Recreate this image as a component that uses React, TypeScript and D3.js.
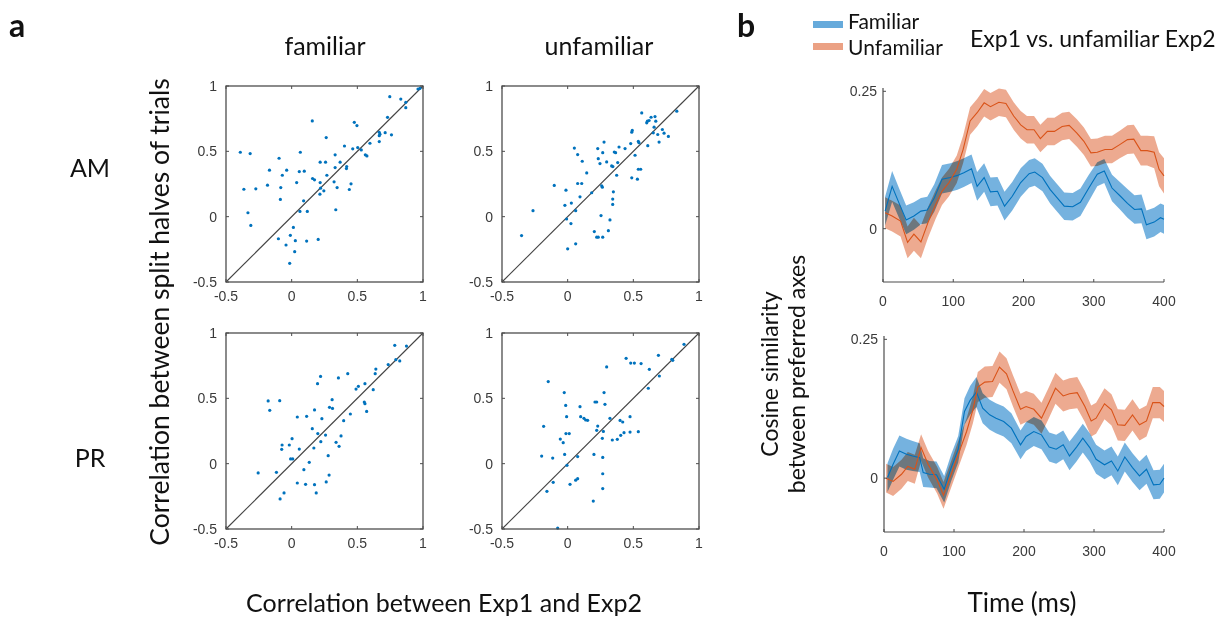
import React from "react";
import * as d3 from "d3";

// ---------- panel a: per-neuron correlations (x = Exp1 vs Exp2, y = split halves) ----------
const AM_FAMILIAR: [number, number][] = [
  [0.962, 0.977], [0.977, 0.982], [0.747, 0.918], [0.831, 0.9], [0.869, 0.875], [0.869, 0.834],
  [0.73, 0.76], [0.157, 0.733], [0.477, 0.722], [0.497, 0.697], [0.263, 0.605], [0.667, 0.646],
  [0.672, 0.631], [0.667, 0.62], [0.712, 0.643], [0.76, 0.626], [0.667, 0.575], [0.596, 0.562],
  [0.402, 0.541], [0.465, 0.519], [0.503, 0.529], [0.53, 0.511], [-0.391, 0.493], [-0.316, 0.483],
  [0.066, 0.493], [0.331, 0.473], [0.561, 0.473], [0.573, 0.465], [-0.096, 0.447], [0.217, 0.417],
  [0.258, 0.417], [0.369, 0.417], [0.331, 0.376], [0.419, 0.384], [0.417, 0.368], [-0.169, 0.356],
  [-0.038, 0.356], [0.058, 0.345], [0.096, 0.348], [-0.071, 0.317], [0.268, 0.317], [0.159, 0.292],
  [0.174, 0.282], [0.038, 0.261], [0.217, 0.261], [0.323, 0.267], [0.452, 0.251], [-0.184, 0.241],
  [-0.364, 0.21], [-0.273, 0.213], [-0.083, 0.223], [0.22, 0.218], [0.346, 0.223], [0.439, 0.208],
  [0.245, 0.198], [0.215, 0.172], [-0.086, 0.132], [0.091, 0.121], [-0.333, 0.03], [0.063, 0.04],
  [0.119, 0.04], [0.336, 0.053], [-0.311, -0.067], [0.013, -0.082], [-0.101, -0.169], [-0.01, -0.143],
  [0.028, -0.184], [0.114, -0.187], [0.202, -0.174], [-0.043, -0.217], [0.023, -0.268], [-0.015, -0.357],
];

const AM_UNFAMILIAR: [number, number][] = [
  [-0.351, -0.145], [-0.264, 0.046], [-0.102, 0.239], [-0.013, 0.203], [-0.021, 0.087], [-0.008, -0.018],
  [0.028, 0.104], [0.025, -0.053], [0, -0.246], [0.051, 0.525], [0.076, 0.475], [0.111, 0.424],
  [0.145, 0.335], [0.076, 0.254], [0.107, 0.254], [0.094, 0.152], [0.061, 0.046], [0.061, -0.208],
  [0.183, 0.183], [0.229, 0.521], [0.233, 0.444], [0.246, 0.406], [0.259, 0.236], [0.264, 0.226],
  [0.277, 0.571], [0.267, 0.49], [0.297, 0.419], [0.203, -0.114], [0.221, -0.157], [0.233, -0.157],
  [0.267, -0.157], [0.254, 0.008], [0.31, -0.107], [0.322, -0.025], [0.335, 0.388], [0.344, 0.383],
  [0.348, 0.19], [0.343, 0.135], [0.343, 0.094], [0.355, 0.495], [0.365, 0.49], [0.373, 0.317],
  [0.391, 0.533], [0.381, 0.414], [0.437, 0.521], [0.48, 0.559], [0.488, 0.647], [0.492, 0.66],
  [0.488, 0.297], [0.513, 0.47], [0.531, 0.287], [0.538, 0.576], [0.543, 0.566], [0.564, 0.794],
  [0.607, 0.731], [0.62, 0.736], [0.602, 0.718], [0.635, 0.761], [0.665, 0.766], [0.671, 0.731],
  [0.658, 0.685], [0.652, 0.642], [0.686, 0.629], [0.721, 0.667], [0.734, 0.639], [0.767, 0.614],
  [0.696, 0.571], [0.831, 0.807], [0.61, 0.543], [0.538, 0.363], [0.556, 0.363],
];

const PR_FAMILIAR: [number, number][] = [
  [0.785, 0.906], [0.874, 0.9], [0.793, 0.796], [0.823, 0.786], [0.735, 0.758], [0.641, 0.724],
  [0.636, 0.689], [0.22, 0.668], [0.427, 0.689], [0.356, 0.656], [0.197, 0.612], [0.508, 0.592],
  [0.49, 0.571], [0.558, 0.612], [0.621, 0.566], [-0.179, 0.48], [-0.091, 0.482], [0.308, 0.49],
  [0.553, 0.472], [0.558, 0.459], [-0.167, 0.408], [0.288, 0.431], [0.311, 0.423], [0.174, 0.411],
  [0.571, 0.4], [0.447, 0.38], [0.043, 0.357], [0.114, 0.362], [0.23, 0.344], [0.396, 0.329],
  [0.157, 0.268], [0.199, 0.23], [0.258, 0.219], [0.003, 0.191], [0.376, 0.212], [0.222, 0.168],
  [0.338, 0.163], [-0.073, 0.143], [-0.018, 0.143], [0.361, 0.133], [-0.076, 0.11], [0.058, 0.112],
  [0.169, 0.12], [0.278, 0.061], [-0.008, 0.036], [0.008, 0.036], [0.134, 0.01], [-0.255, -0.071],
  [-0.116, -0.066], [0.093, -0.046], [0.285, -0.087], [0.043, -0.148], [0.106, -0.158], [0.174, -0.161],
  [0.263, -0.14], [-0.058, -0.224], [0.187, -0.224], [-0.088, -0.27],
];

const PR_UNFAMILIAR: [number, number][] = [
  [-0.148, 0.628], [-0.183, 0.286], [-0.198, 0.058], [-0.114, 0.043], [-0.158, -0.212], [-0.11, -0.143],
  [-0.076, -0.493], [-0.056, 0.188], [-0.034, 0.161], [-0.026, 0.544], [-0.015, 0.446], [-0.008, 0.36],
  [-0.013, 0.23], [0.012, 0.23], [-0.023, 0.071], [-0.005, -0.013], [0.018, -0.158], [0.061, -0.126],
  [0.076, -0.115], [0.076, 0.054], [0.094, 0.436], [0.099, 0.36], [0.124, 0.347], [0.137, 0.334],
  [0.152, 0.332], [0.2, 0.071], [0.195, -0.286], [0.208, 0.472], [0.221, 0.472], [0.221, 0.255],
  [0.229, 0.288], [0.264, 0.194], [0.272, 0.247], [0.277, 0.544], [0.284, 0.454], [0.267, 0.048],
  [0.267, -0.077], [0.267, -0.191], [0.297, 0.74], [0.322, 0.347], [0.34, 0.181], [0.378, 0.186],
  [0.399, 0.331], [0.419, 0.319], [0.404, 0.217], [0.429, 0.237], [0.445, 0.806], [0.475, 0.36],
  [0.475, 0.242], [0.48, 0.77], [0.508, 0.77], [0.538, 0.245], [0.886, 0.913], [0.793, 0.799],
  [0.8, 0.791], [0.691, 0.829], [0.622, 0.722], [0.698, 0.671], [0.614, 0.577], [0.559, 0.766],
];

const SCATTER_TICKS = [-0.5, 0, 0.5, 1];
const SCATTER_TICK_LABELS = ["-0.5", "0", "0.5", "1"];

// ---------- panel b: cosine similarity time courses (time ms, mean, s.e.m.) ----------
const AM_FAM_T = [3, 13, 23, 33, 44, 54, 63, 73, 84, 96, 106, 115, 126, 134, 144, 153, 163, 173, 184, 196,
  208, 216, 227, 238, 248, 258, 270, 281, 293, 305, 315, 326, 338, 348, 358, 368, 375, 386, 395, 400];
const AM_FAM_MEAN = [0.032, 0.077, 0.046, 0.016, 0.023, 0.032, 0.034, 0.056, 0.09, 0.093, 0.097, 0.102, 0.109, 0.077, 0.093, 0.067, 0.068, 0.041, 0.059, 0.084,
  0.1, 0.103, 0.093, 0.071, 0.056, 0.041, 0.04, 0.048, 0.074, 0.099, 0.105, 0.074, 0.059, 0.046, 0.035, 0.036, 0.007, 0.012, 0.02, 0.017];
const AM_FAM_SEM = [0.026, 0.028, 0.027, 0.026, 0.025, 0.024, 0.024, 0.025, 0.026, 0.026, 0.026, 0.026, 0.026, 0.026, 0.026, 0.026, 0.026, 0.026, 0.026, 0.026,
  0.025, 0.025, 0.025, 0.025, 0.025, 0.025, 0.025, 0.025, 0.024, 0.022, 0.022, 0.024, 0.025, 0.026, 0.026, 0.026, 0.026, 0.026, 0.026, 0.026];

const AM_UNF_T = [3, 13, 25, 35, 44, 54, 64, 75, 84, 94, 105, 114, 124, 134, 144, 153, 165, 175, 186, 196,
  205, 215, 224, 234, 244, 255, 265, 276, 286, 296, 305, 316, 326, 337, 348, 357, 367, 376, 386, 393, 400];
const AM_UNF_MEAN = [0.029, 0.023, 0.014, -0.025, -0.01, -0.024, 0.011, 0.044, 0.068, 0.084, 0.108, 0.144, 0.196, 0.211, 0.229, 0.222, 0.23, 0.228, 0.205, 0.189,
  0.18, 0.18, 0.164, 0.177, 0.177, 0.186, 0.188, 0.174, 0.159, 0.138, 0.139, 0.144, 0.144, 0.153, 0.162, 0.163, 0.142, 0.142, 0.139, 0.108, 0.096];
const AM_UNF_SEM = [0.028, 0.028, 0.028, 0.029, 0.03, 0.03, 0.028, 0.026, 0.025, 0.025, 0.025, 0.025, 0.025, 0.025, 0.025, 0.025, 0.025, 0.025, 0.025, 0.025,
  0.025, 0.025, 0.025, 0.025, 0.025, 0.025, 0.025, 0.025, 0.025, 0.025, 0.025, 0.025, 0.025, 0.025, 0.026, 0.026, 0.027, 0.027, 0.029, 0.031, 0.032];

const PR_FAM_T = [5, 13, 22, 32, 41, 51, 56, 65, 75, 86, 96, 106, 115, 123, 132, 141, 151, 160, 171, 182,
  195, 203, 214, 225, 236, 246, 256, 265, 275, 284, 294, 303, 315, 325, 334, 344, 355, 365, 375, 385, 394, 400];
const PR_FAM_MEAN = [0.001, 0.025, 0.049, 0.043, 0.04, 0.037, 0.01, 0.007, 0.006, -0.02, 0.019, 0.052, 0.12, 0.14, 0.155, 0.126, 0.114, 0.108, 0.102, 0.09,
  0.06, 0.075, 0.084, 0.078, 0.056, 0.052, 0.06, 0.04, 0.056, 0.072, 0.055, 0.034, 0.024, 0.031, 0.013, 0.038, 0.019, 0.004, 0.016, -0.012, -0.011, 0];
const PR_FAM_SEM = [0.026, 0.028, 0.028, 0.028, 0.027, 0.026, 0.026, 0.024, 0.024, 0.024, 0.024, 0.024, 0.024, 0.026, 0.027, 0.027, 0.027, 0.027, 0.027, 0.027,
  0.026, 0.026, 0.026, 0.026, 0.026, 0.026, 0.026, 0.026, 0.026, 0.026, 0.026, 0.026, 0.026, 0.026, 0.026, 0.026, 0.026, 0.026, 0.026, 0.026, 0.026, 0.026];

const PR_UNF_T = [3, 13, 25, 34, 44, 53, 63, 76, 85, 96, 107, 118, 127, 134, 144, 155, 165, 175, 184, 195,
  203, 214, 225, 236, 245, 256, 265, 276, 287, 296, 303, 315, 325, 334, 344, 355, 365, 375, 384, 394, 400];
const PR_UNF_MEAN = [0, -0.006, 0.007, 0.021, 0.016, 0.055, 0.025, -0.004, -0.031, 0.007, 0.046, 0.084, 0.123, 0.164, 0.173, 0.174, 0.2, 0.188, 0.158, 0.124,
  0.129, 0.124, 0.108, 0.137, 0.162, 0.148, 0.152, 0.154, 0.129, 0.103, 0.108, 0.134, 0.123, 0.096, 0.095, 0.114, 0.096, 0.103, 0.136, 0.136, 0.129];
const PR_UNF_SEM = [0.026, 0.026, 0.026, 0.026, 0.026, 0.024, 0.024, 0.024, 0.024, 0.024, 0.024, 0.024, 0.024, 0.027, 0.028, 0.028, 0.028, 0.028, 0.028, 0.028,
  0.028, 0.028, 0.028, 0.028, 0.028, 0.028, 0.028, 0.028, 0.028, 0.028, 0.028, 0.028, 0.028, 0.028, 0.028, 0.028, 0.028, 0.028, 0.028, 0.028, 0.028];

const TIME_TICKS = [0, 100, 200, 300, 400];
const SIM_TICKS = [0, 0.25];
const SIM_TICK_LABELS = ["0", "0.25"];

const LEGEND_LABELS = ["Familiar", "Unfamiliar"];

// ---------- styling ----------
const BLUE = "#0072BD";
const ORANGE = "#D95319";
const BLUE_BAND = "#66aadb";
const ORANGE_BAND = "#eba184";
const AXIS = "#4d4d4d";
const TICK_TEXT = "#3a3a3a";
const TICK_FONT = "'Liberation Sans', Arial, sans-serif";
const TEXT_FONT = "Lato, 'Open Sans', sans-serif";

type ScatterProps = { left: number; top: number; data: [number, number][] };

function ScatterPanel({ left, top, data }: ScatterProps) {
  const w = 197;
  const h = 196;
  const x = d3.scaleLinear().domain([-0.5, 1]).range([left, left + w]);
  const y = d3.scaleLinear().domain([-0.5, 1]).range([top + h, top]);
  const tl = 3;
  return (
    <g>
      <line x1={x(-0.5)} y1={y(-0.5)} x2={x(1)} y2={y(1)} stroke="#444" strokeWidth={1.1} />
      {data.map(([a, b], i) => (
        <circle key={i} cx={x(a)} cy={y(b)} r={1.6} fill={BLUE} />
      ))}
      <rect x={left} y={top} width={w} height={h} fill="none" stroke={AXIS} strokeWidth={1.3} />
      {SCATTER_TICKS.map((t, i) => (
        <g key={i}>
          <line x1={x(t)} x2={x(t)} y1={top + h} y2={top + h - tl} stroke={AXIS} />
          <line x1={x(t)} x2={x(t)} y1={top} y2={top + tl} stroke={AXIS} />
          <line x1={left} x2={left + tl} y1={y(t)} y2={y(t)} stroke={AXIS} />
          <line x1={left + w} x2={left + w - tl} y1={y(t)} y2={y(t)} stroke={AXIS} />
          <text x={x(t)} y={top + h + 19} textAnchor="middle" fontSize={14} fontFamily={TICK_FONT} fill={TICK_TEXT}>
            {SCATTER_TICK_LABELS[i]}
          </text>
          <text x={left - 9} y={y(t) + 5} textAnchor="end" fontSize={14} fontFamily={TICK_FONT} fill={TICK_TEXT}>
            {SCATTER_TICK_LABELS[i]}
          </text>
        </g>
      ))}
    </g>
  );
}

type Series = { t: number[]; mean: number[]; sem: number[]; line: string; band: string };
type TimeProps = { x0: number; x1: number; yBottom: number; yTop: number; series: Series[] };

function TimePanel({ x0, x1, yBottom, yTop, series }: TimeProps) {
  const x = d3.scaleLinear().domain([0, 400]).range([x0, x1]);
  const y = d3.scaleLinear().domain([-0.097, 0.256]).range([yBottom, yTop]);
  const tl = 3;
  return (
    <g>
      {series.map((s, k) => {
        const idx = d3.range(s.t.length);
        const area = d3
          .area<number>()
          .x((i) => x(s.t[i]))
          .y0((i) => y(s.mean[i] - s.sem[i]))
          .y1((i) => y(s.mean[i] + s.sem[i]));
        return <path key={k} d={area(idx) ?? ""} fill={s.band} fillOpacity={0.9} style={{ mixBlendMode: "multiply" }} />;
      })}
      {series.map((s, k) => {
        const idx = d3.range(s.t.length);
        const line = d3
          .line<number>()
          .x((i) => x(s.t[i]))
          .y((i) => y(s.mean[i]));
        return <path key={k} d={line(idx) ?? ""} fill="none" stroke={s.line} strokeWidth={1.1} />;
      })}
      <line x1={x0} x2={x0} y1={yBottom} y2={yTop} stroke={AXIS} strokeWidth={1.2} />
      <line x1={x0} x2={x1} y1={yBottom} y2={yBottom} stroke={AXIS} strokeWidth={1.2} />
      {TIME_TICKS.map((t) => (
        <g key={t}>
          <line x1={x(t)} x2={x(t)} y1={yBottom} y2={yBottom - tl} stroke={AXIS} />
          <text x={x(t)} y={yBottom + 24} textAnchor="middle" fontSize={14} fontFamily={TICK_FONT} fill={TICK_TEXT}>
            {t}
          </text>
        </g>
      ))}
      {SIM_TICKS.map((v, i) => (
        <g key={v}>
          <line x1={x0} x2={x0 + tl} y1={y(v)} y2={y(v)} stroke={AXIS} />
          <text x={x0 - 6} y={y(v) + 5} textAnchor="end" fontSize={14} fontFamily={TICK_FONT} fill={TICK_TEXT}>
            {SIM_TICK_LABELS[i]}
          </text>
        </g>
      ))}
    </g>
  );
}

export default function App() {
  const amSeries: Series[] = [
    { t: AM_FAM_T, mean: AM_FAM_MEAN, sem: AM_FAM_SEM, line: BLUE, band: BLUE_BAND },
    { t: AM_UNF_T, mean: AM_UNF_MEAN, sem: AM_UNF_SEM, line: ORANGE, band: ORANGE_BAND },
  ];
  const prSeries: Series[] = [
    { t: PR_FAM_T, mean: PR_FAM_MEAN, sem: PR_FAM_SEM, line: BLUE, band: BLUE_BAND },
    { t: PR_UNF_T, mean: PR_UNF_MEAN, sem: PR_UNF_SEM, line: ORANGE, band: ORANGE_BAND },
  ];
  return (
    <svg width={1223} height={617} style={{ position: "absolute", left: 0, top: 0, background: "#fff" }}>
      {/* panel letters */}
      <text x={9} y={37} fontSize={32} fontWeight="bold" fontFamily={TEXT_FONT} fill="#111">a</text>
      <text x={737} y={37} fontSize={32} fontWeight="bold" fontFamily={TEXT_FONT} fill="#111">b</text>

      {/* panel a */}
      <text x={325} y={55} textAnchor="middle" fontSize={25} fontFamily={TEXT_FONT} fill="#111">familiar</text>
      <text x={599} y={55} textAnchor="middle" fontSize={25} fontFamily={TEXT_FONT} fill="#111">unfamiliar</text>
      <text x={90} y={177} textAnchor="middle" fontSize={25} fontFamily={TEXT_FONT} fill="#111">AM</text>
      <text x={90} y={467} textAnchor="middle" fontSize={25} fontFamily={TEXT_FONT} fill="#111">PR</text>
      <text transform="translate(169,312) rotate(-90)" textAnchor="middle" fontSize={26.5} fontFamily={TEXT_FONT} fill="#111">
        Correlation between split halves of trials
      </text>
      <text x={444} y={612} textAnchor="middle" fontSize={25} fontFamily={TEXT_FONT} fill="#111">
        Correlation between Exp1 and Exp2
      </text>
      <ScatterPanel left={226} top={86} data={AM_FAMILIAR} />
      <ScatterPanel left={502} top={86} data={AM_UNFAMILIAR} />
      <ScatterPanel left={226} top={333} data={PR_FAMILIAR} />
      <ScatterPanel left={502} top={333} data={PR_UNFAMILIAR} />

      {/* panel b */}
      <rect x={813} y={21} width={30} height={7} fill={BLUE_BAND} />
      <rect x={813} y={43} width={30} height={7} fill={ORANGE_BAND} />
      <text x={848} y={29} fontSize={21} fontFamily={TEXT_FONT} fill="#111">{LEGEND_LABELS[0]}</text>
      <text x={848} y={55} fontSize={21} fontFamily={TEXT_FONT} fill="#111">{LEGEND_LABELS[1]}</text>
      <text x={970} y={47} fontSize={23} fontFamily={TEXT_FONT} fill="#111">Exp1 vs. unfamiliar Exp2</text>
      <text transform="translate(778,374) rotate(-90)" textAnchor="middle" fontSize={23} fontFamily={TEXT_FONT} fill="#111">
        Cosine similarity
      </text>
      <text transform="translate(805,374) rotate(-90)" textAnchor="middle" fontSize={23} fontFamily={TEXT_FONT} fill="#111">
        between preferred axes
      </text>
      <text x={1022} y={612} textAnchor="middle" fontSize={26} fontFamily={TEXT_FONT} fill="#111">Time (ms)</text>
      <TimePanel x0={883} x1={1164} yBottom={282} yTop={88} series={amSeries} />
      <TimePanel x0={884} x1={1164} yBottom={532} yTop={336} series={prSeries} />
    </svg>
  );
}
